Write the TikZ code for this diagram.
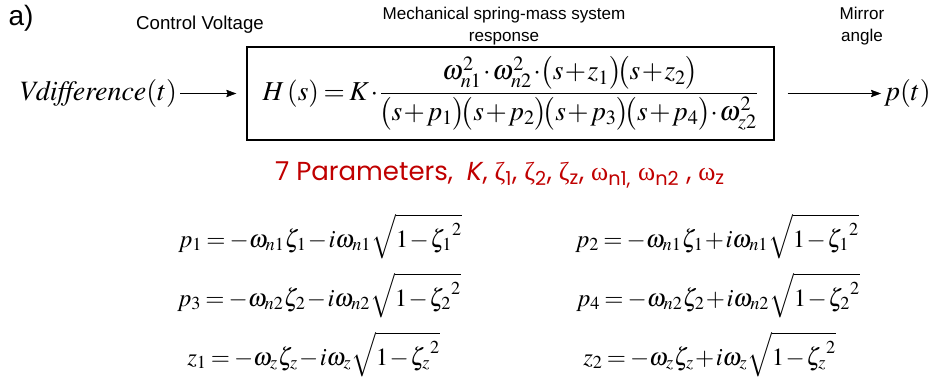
\documentclass[tikz,border=0pt]{standalone}
\usepackage{mathptmx}
\usepackage{fontspec}
\setmainfont{Liberation Serif}
\setsansfont{Liberation Sans}
\newfontfamily\gothic{Poppins}
\newfontfamily\grk{Liberation Serif}
\usepackage{tikz}
\usetikzlibrary{arrows.meta, positioning}
\definecolor{pardred}{RGB}{192,0,0}
\newcommand{\tight}{\medmuskip=1mu plus 1mu\thickmuskip=3mu plus 1mu}
\newcommand{\fac}[1]{\mkern-1.5mu\bigl(#1\bigr)\mkern-1.5mu}

\begin{document}
\begin{tikzpicture}[x=0.75pt, y=-0.75pt, >={Stealth[length=7.5pt, width=5.5pt, inset=1pt]},
    lbl/.style={font=\sffamily\fontsize{12.8}{16}\selectfont, align=center},
    big/.style={font=\fontsize{21}{25}\selectfont},
    eqn/.style={font=\fontsize{18.5}{22}\selectfont, anchor=base west, inner sep=0pt}]
        \useasboundingbox (0,0) rectangle (932,389);
        \node[font=\sffamily\fontsize{21}{23}\selectfont] (tag) at (21,18) {a)};
        \node[lbl, font=\sffamily\fontsize{14}{16}\selectfont] (ctrl) at (200,25) {Control Voltage};
        \node[lbl] (mech) at (504,26) {Mechanical spring-mass system\\response};
        \node[lbl] (mirror) at (862,26) {Mirror\\angle};

        \node[draw, line width=1.3pt, font=\fontsize{20.5}{24}\selectfont, minimum width=395pt, minimum height=70pt, inner sep=1pt] (hbox) at (510.5,93.5)
            {$\tight\displaystyle H\,(s)=K\cdot\frac{\omega_{n1}^{2}\cdot\omega_{n2}^{2}\cdot\fac{s+z_1}\fac{s+z_2}}{\fac{s+p_1}\fac{s+p_2}\fac{s+p_3}\fac{s+p_4}\cdot\omega_{z2}^{2}}$};
        \node[big, anchor=east, inner sep=2pt] (vin) at (180,93.5) {$\mathit{Vdifference}(t)$};
        \node[big, anchor=west, inner sep=2pt] (pout) at (881,93.5) {$p(t)$};

        \draw[->, shorten >=7.5pt] (vin) -- (hbox);
        \draw[->, shorten <=9.75pt] (hbox) -- (pout);

        \node[text=pardred, font=\gothic\fontsize{19.5}{22}\selectfont] (params) at (500,175)
            {7 Parameters,~ \textit{K}, {\grk ζ}\textsubscript{1}, {\grk ζ}\textsubscript{2}, {\grk ζ}\textsubscript{z}, {\grk ω}\textsubscript{n1,} {\grk ω}\textsubscript{n2} , {\grk ω}\textsubscript{z}};

        \node[eqn] (p1) at (178,247) {$\tight p_1=-\omega_{n1}\zeta_1-i\omega_{n1}\sqrt{1-{\zeta_1}^{2}}$};
        \node[eqn] (p2) at (575,247) {$\tight p_2=-\omega_{n1}\zeta_1+i\omega_{n1}\sqrt{1-{\zeta_1}^{2}}$};
        \node[eqn] (p3) at (177,306) {$\tight p_3=-\omega_{n2}\zeta_2-i\omega_{n2}\sqrt{1-{\zeta_2}^{2}}$};
        \node[eqn] (p4) at (576,306) {$\tight p_4=-\omega_{n2}\zeta_2+i\omega_{n2}\sqrt{1-{\zeta_2}^{2}}$};
        \node[eqn] (z1) at (187,365) {$\tight z_1=-\omega_z\zeta_z-i\omega_z\sqrt{1-{\zeta_z}^{2}}$};
        \node[eqn] (z2) at (583,365) {$\tight z_2=-\omega_z\zeta_z+i\omega_z\sqrt{1-{\zeta_z}^{2}}$};
\end{tikzpicture}
\end{document}
